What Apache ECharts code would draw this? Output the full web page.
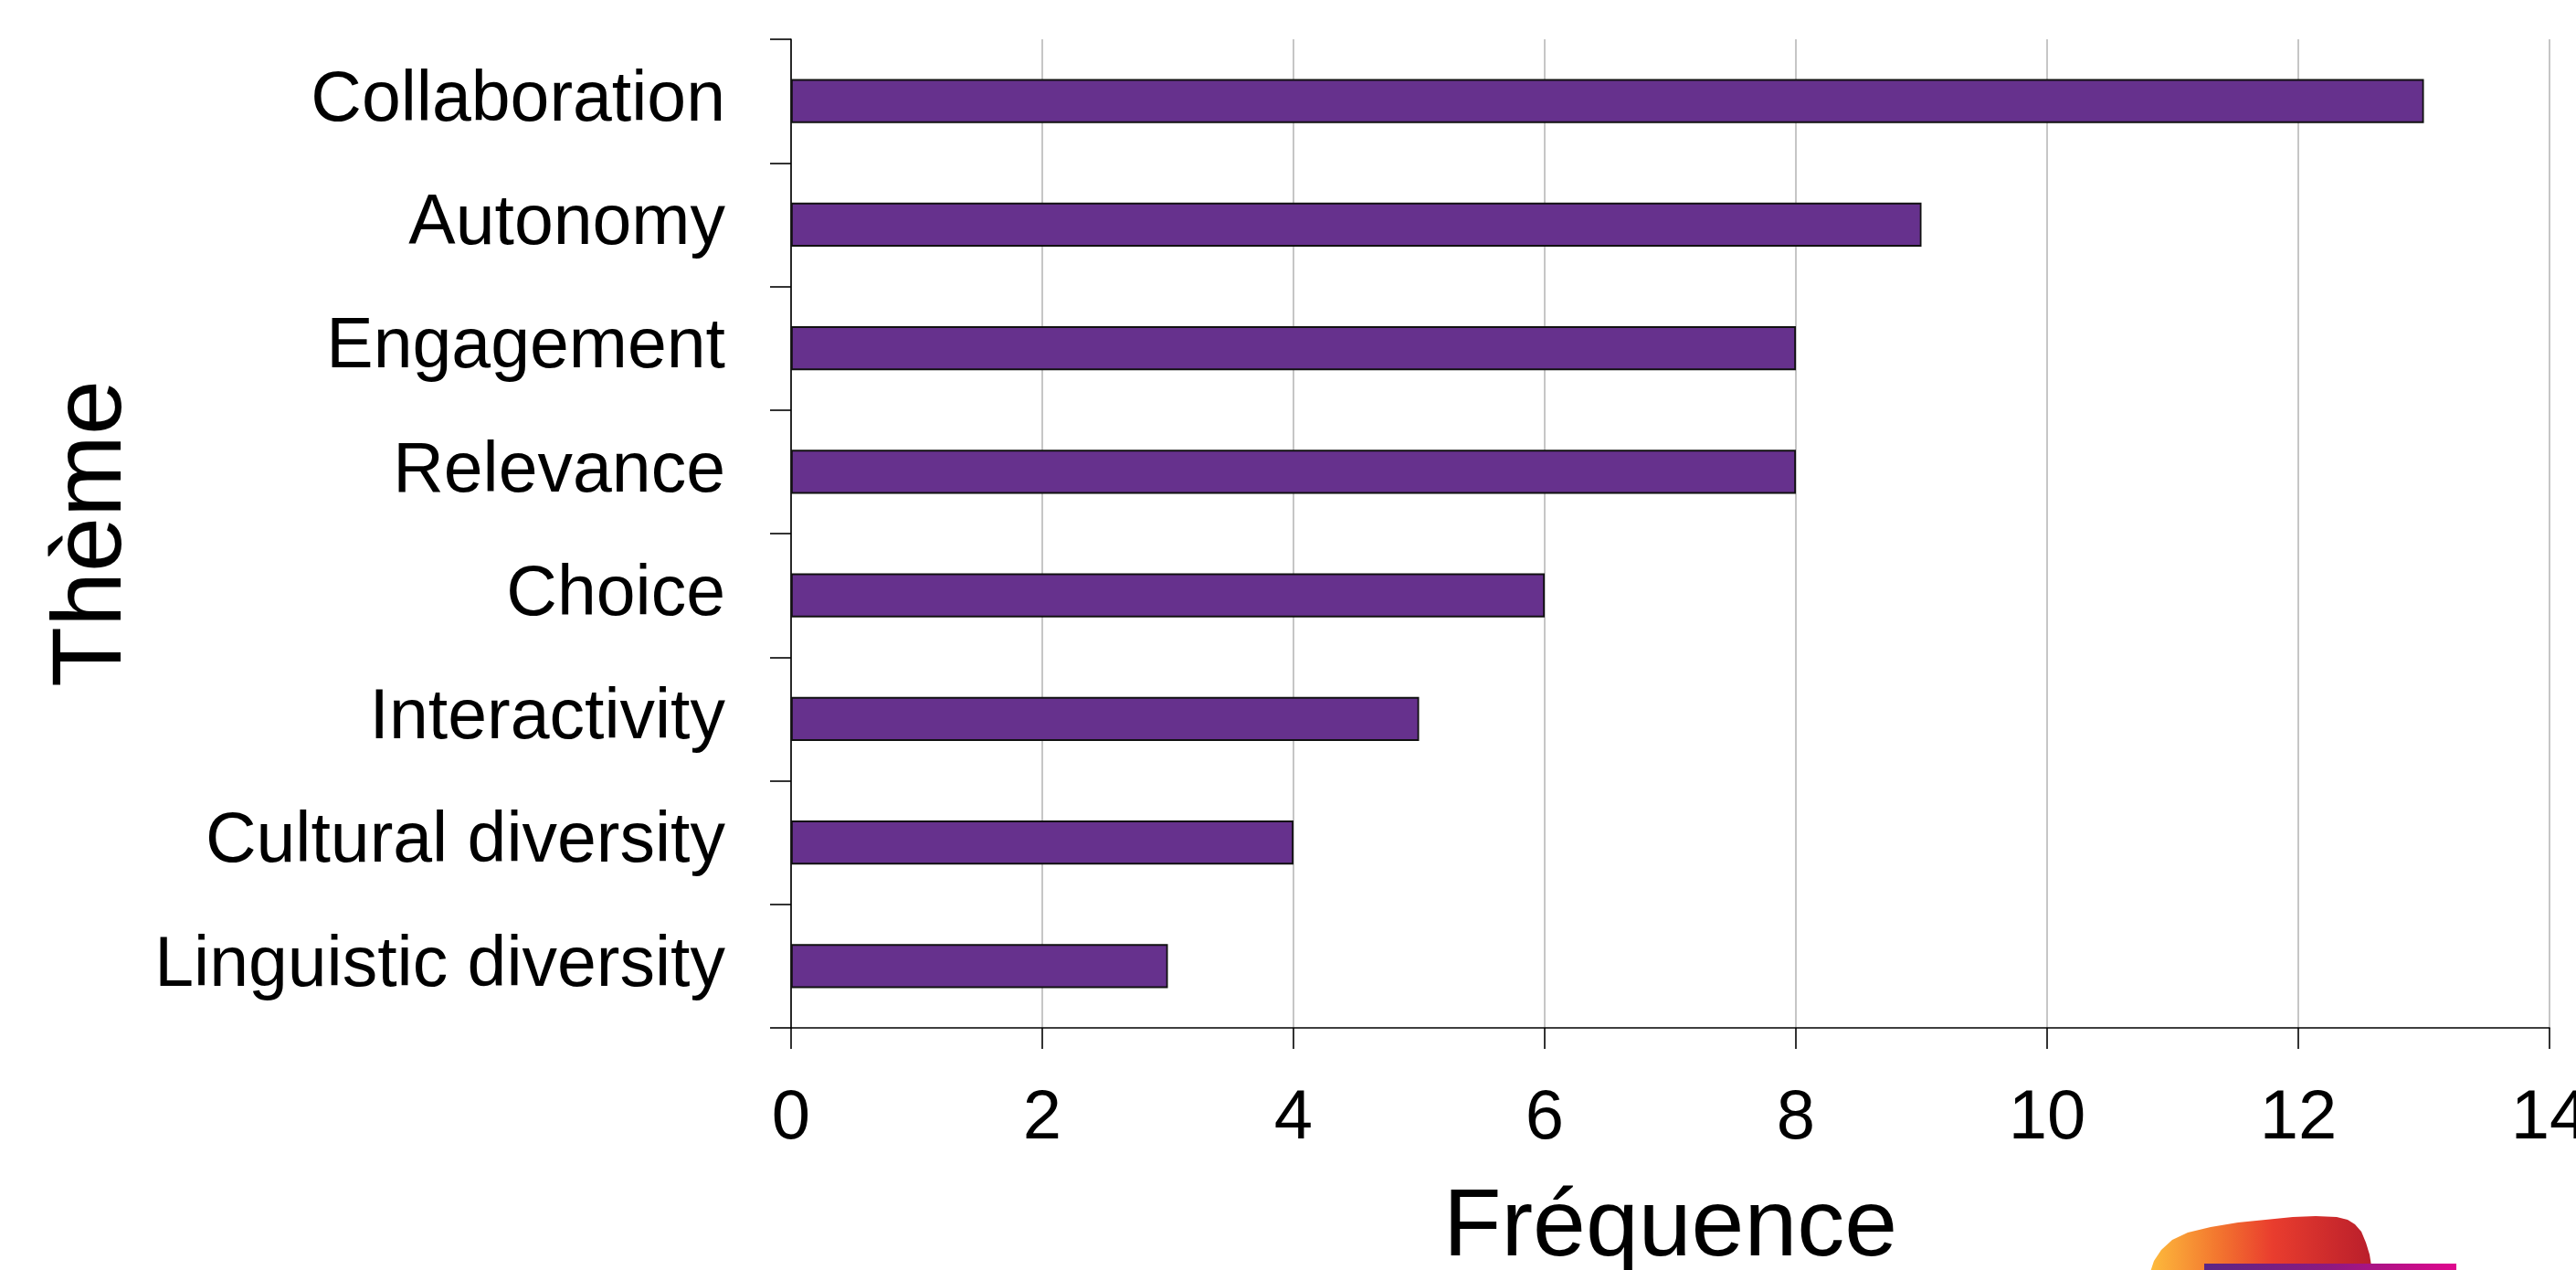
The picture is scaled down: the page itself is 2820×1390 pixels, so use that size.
<!DOCTYPE html>
<html>
<head>
<meta charset="utf-8">
<script src="https://cdn.jsdelivr.net/npm/echarts@6/dist/echarts.min.js"></script>
<style>
html,body{margin:0;padding:0;background:#fff;overflow:hidden;}
#chart{width:2820px;height:1390px;}
</style>
</head>
<body>
<div id="chart"></div>
<script>
const categories = ["Collaboration", "Autonomy", "Engagement", "Relevance", "Choice", "Interactivity", "Cultural diversity", "Linguistic diversity"];
const frequencies = [13, 9, 8, 8, 6, 5, 4, 3];
const xTicks = [0, 2, 4, 6, 8, 10, 12, 14];
const xAxisTitle = "Fréquence";
const yAxisTitle = "Thème";

const FONT = "'Liberation Sans', Arial, sans-serif";
const chart = echarts.init(document.getElementById('chart'), null, {renderer: 'canvas'});

const logoBlob = [[2354,1392],[2358,1380],[2366,1368],[2378,1357],[2395,1349],[2420,1343],[2450,1338],[2480,1335],[2510,1332],[2535,1331],[2558,1332],[2570,1335],[2578,1340],[2585,1348],[2590,1360],[2594,1373],[2597,1392]];

chart.setOption({
  backgroundColor: '#ffffff',
  animation: false,
  grid: {left: 866, right: 29, top: 43, bottom: 265, containLabel: false, outerBoundsMode: 'none'},
  xAxis: {
    type: 'value',
    min: xTicks[0],
    max: xTicks[xTicks.length - 1],
    interval: 2,
    name: xAxisTitle,
    nameLocation: 'middle',
    nameGap: 168,
    nameTextStyle: {fontFamily: FONT, fontSize: 104, color: '#000'},
    axisLine: {show: true, lineStyle: {color: '#000', width: 1.6}},
    axisTick: {show: true, length: 23, lineStyle: {color: '#000', width: 1.6}},
    axisLabel: {fontFamily: FONT, fontSize: 76, color: '#000', margin: 62},
    splitLine: {show: true, lineStyle: {color: '#b3b3b3', width: 1.5}}
  },
  yAxis: {
    type: 'category',
    data: categories,
    inverse: true,
    name: yAxisTitle,
    nameLocation: 'middle',
    nameGap: 710,
    nameTextStyle: {fontFamily: FONT, fontSize: 108, color: '#000'},
    axisLine: {show: true, lineStyle: {color: '#000', width: 1.6}},
    axisTick: {show: true, length: 23, lineStyle: {color: '#000', width: 1.6}},
    axisLabel: {fontFamily: FONT, fontSize: 77, color: '#000', margin: 72},
    splitLine: {show: false}
  },
  series: [{
    type: 'bar',
    data: frequencies,
    barWidth: '35.5%',
    itemStyle: {color: '#66318d', borderColor: '#111', borderWidth: 1.8}
  }],
  graphic: [
    {
      type: 'polygon',
      silent: true,
      shape: {points: logoBlob},
      style: {
        fill: {type: 'linear', x: 0, y: 0, x2: 1, y2: 0, colorStops: [
          {offset: 0, color: '#fdbb3c'},
          {offset: 0.3, color: '#f3772f'},
          {offset: 0.55, color: '#e93d2e'},
          {offset: 1, color: '#b91e2b'}
        ]}
      }
    },
    {
      type: 'rect',
      silent: true,
      shape: {x: 2413, y: 1383, width: 276, height: 9},
      style: {
        fill: {type: 'linear', x: 0, y: 0, x2: 1, y2: 0, colorStops: [
          {offset: 0, color: '#5a2585'},
          {offset: 0.5, color: '#8e1a80'},
          {offset: 1, color: '#e0078e'}
        ]}
      }
    }
  ]
});
</script>
</body>
</html>
